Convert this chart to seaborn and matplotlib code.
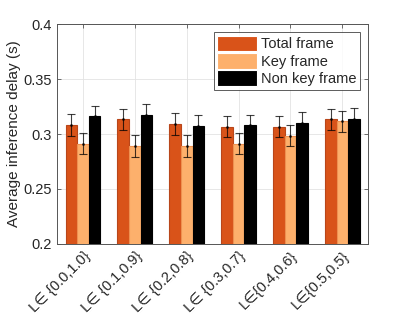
import pandas as pd
import numpy as np
import matplotlib.pyplot as plt
import seaborn as sns

# values
categories = ['L∈ {0.0,1.0}', 'L∈ {0.1,0.9}', 'L∈ {0.2,0.8}',
              'L∈ {0.3,0.7}', 'L∈{0.4,0.6}', 'L∈{0.5,0.5}']
series = ['Total frame', 'Key frame', 'Non key frame']
total_frame = [0.308, 0.3134, 0.309, 0.3067, 0.3067, 0.3134]
key_frame = [0.291, 0.289, 0.289, 0.291, 0.2985, 0.3115]
non_key_frame = [0.316, 0.3173, 0.3073, 0.308, 0.310, 0.3136]
total_err = [0.0098, 0.0096, 0.0098, 0.0093, 0.0097, 0.0096]
key_err = [0.0096, 0.0098, 0.0100, 0.0096, 0.0095, 0.0095]
non_key_err = [0.0095, 0.0097, 0.0097, 0.0093, 0.0097, 0.0097]

colors = ['#D95319', '#FDB06C', '#000000']
edges = ['#B8461A', '#EE9050', '#000000']

sns.set_style('whitegrid')
plt.rcParams['font.family'] = ['Liberation Sans', 'DejaVu Sans']
plt.rcParams['font.size'] = 8.5

df = pd.DataFrame({
    'cat': categories * 3,
    'series': [s for s in series for _ in categories],
    'val': total_frame + key_frame + non_key_frame,
})
errs = [total_err, key_err, non_key_err]

fig, ax = plt.subplots(figsize=(4.07, 3.21), dpi=100)
fig.subplots_adjust(left=0.14, right=0.905, top=0.925, bottom=0.24)

sns.barplot(data=df, x='cat', y='val', hue='series', hue_order=series,
            order=categories, palette=colors, width=0.67, gap=0,
            errorbar=None, ax=ax, linewidth=0.8, saturation=1)

for cont, ec, err, vals in zip(ax.containers, edges, errs,
                               [total_frame, key_frame, non_key_frame]):
    xs = []
    for bar in cont:
        bar.set_edgecolor(ec)
        xs.append(bar.get_x() + bar.get_width() / 2)
    ax.errorbar(xs, vals, yerr=err, fmt='.', color='black', ms=2,
                elinewidth=0.8, capsize=2.8, capthick=0.8, alpha=0.75, zorder=5)

ax.set_ylim(0.2, 0.4)
ax.set_xlim(-0.5, 5.5)
ax.set_yticks([0.2, 0.25, 0.3, 0.35, 0.4])
ax.set_yticklabels(['0.2', '0.25', '0.3', '0.35', '0.4'])
ax.set_xlabel('')
ax.set_ylabel('Average inference delay (s)', fontsize=11, color='#262626',
              labelpad=2)
ax.tick_params(axis='y', labelsize=10.5, labelcolor='#262626')
ax.tick_params(direction='in', length=3, color='#555555', top=True, right=True,
               left=True, bottom=True, width=0.6)
plt.setp(ax.get_xticklabels(), rotation=45, ha='right', rotation_mode='anchor',
         fontsize=10.5, color='#262626')
ax.grid(True, color='#E3E3E3', linewidth=0.6)
ax.set_axisbelow(True)
for s in ax.spines.values():
    s.set_color('#555555')
    s.set_linewidth(0.7)

leg = ax.legend(loc='upper right', fontsize=10.5, frameon=True, fancybox=False,
                edgecolor='#333333', borderpad=0.25, labelspacing=0.12,
                handlelength=2.7, handleheight=1.25, handletextpad=0.3,
                borderaxespad=0.55)
leg.get_frame().set_linewidth(0.7)

plt.savefig('out.png', dpi=100)
